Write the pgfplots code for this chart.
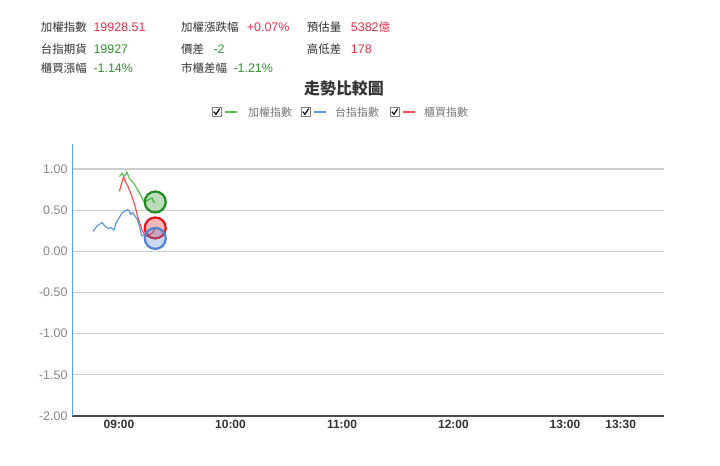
\documentclass[border=0pt]{standalone}
\usepackage{fontspec}
\setmainfont{Liberation Sans}
\newfontfamily\cjk{Noto Sans CJK TC}
\usepackage{pgfplots}
\pgfplotsset{compat=1.18}

\definecolor{txtred}{RGB}{232,48,72}
\definecolor{txtgreen}{RGB}{50,150,50}
\definecolor{txtdark}{RGB}{51,51,51}
\definecolor{lgndgray}{RGB}{120,120,120}
\definecolor{lgreen}{RGB}{90,190,90}
\definecolor{lblue}{RGB}{90,155,225}
\definecolor{lred}{RGB}{240,80,80}
\definecolor{cgreen}{RGB}{30,140,30}
\definecolor{cred}{RGB}{230,20,30}
\definecolor{cblue}{RGB}{80,130,210}
\definecolor{gridgray}{RGB}{205,205,205}
\definecolor{axisblue}{RGB}{90,160,230}

\newcommand{\fs}[1]{\fontsize{#1}{#1}\selectfont}
\newcommand{\cbox}[1]{%
  \draw[gray, line width=0.6bp, fill=white] (#1,349.5bp) rectangle ++(9bp,9bp);
  \draw[black, line width=1.2bp] ({#1+1.8bp},354.3bp) -- ++(2.2bp,-2.6bp) -- ++(3.6bp,5.6bp);}

\begin{document}
\begin{tikzpicture}
\useasboundingbox (0,0) rectangle (720bp,466bp);
\fill[white] (0,0) rectangle (720bp,466bp);

% info block
\begin{scope}[every node/.style={anchor=west, inner sep=0pt}]
\node[txtdark] at (40.7bp,438.7bp) {\cjk\fs{11.5}加權指數};
\node[txtred] at (93.3bp,438.7bp) {\fs{12.5}19928.51};
\node[txtdark] at (181bp,438.7bp) {\cjk\fs{11.5}加權漲跌幅};
\node[txtred] at (246.7bp,438.7bp) {\fs{12.5}+0.07\%};
\node[txtdark] at (306.7bp,438.7bp) {\cjk\fs{11.5}預估量};
\node[txtred] at (350.7bp,438.7bp) {\fs{12.5}5382{\cjk\fs{11.5}億}};

\node[txtdark] at (40.7bp,417bp) {\cjk\fs{11.5}台指期貨};
\node[txtgreen] at (93.3bp,417bp) {\fs{12.5}19927};
\node[txtdark] at (181bp,417bp) {\cjk\fs{11.5}價差};
\node[txtgreen] at (213.3bp,417bp) {\fs{12.5}-2};
\node[txtdark] at (306.7bp,417bp) {\cjk\fs{11.5}高低差};
\node[txtred] at (350.7bp,417bp) {\fs{12.5}178};

\node[txtdark] at (40.7bp,397.7bp) {\cjk\fs{11.5}櫃買漲幅};
\node[txtgreen] at (93.3bp,397.7bp) {\fs{12.5}-1.14\%};
\node[txtdark] at (181bp,397.7bp) {\cjk\fs{11.5}市櫃差幅};
\node[txtgreen] at (233.3bp,397.7bp) {\fs{12.5}-1.21\%};

% legend
\cbox{212bp}
\draw[lgreen, line width=1.3bp] (225bp,354bp) -- (237bp,354bp);
\node[lgndgray] at (248bp,354bp) {\cjk\fs{11}加權指數};
\cbox{301bp}
\draw[lblue, line width=1.3bp] (314bp,354bp) -- (326bp,354bp);
\node[lgndgray] at (335bp,354bp) {\cjk\fs{11}台指指數};
\cbox{390bp}
\draw[lred, line width=1.3bp] (403bp,354bp) -- (415bp,354bp);
\node[lgndgray] at (424bp,354bp) {\cjk\fs{11}櫃買指數};
\end{scope}

\node[txtdark, inner sep=0pt] at (344bp,378bp) {\cjk\bfseries\fs{16}走勢比較圖};

\begin{axis}[
    at={(72bp,50bp)}, anchor=south west,
    scale only axis, width=592bp, height=272bp,
    xmin=-25.3, xmax=293.3,
    ymin=-2, ymax=1.305,
    axis x line*=bottom, axis y line*=left,
    x axis line style={draw={rgb,255:red,75;green,75;blue,75}, line width=2bp},
    y axis line style={draw=axisblue, line width=1bp},
    major tick length=0pt,
    xtick={0,60,120,180,240,270},
    xticklabels={09:00,10:00,11:00,12:00,13:00,13:30},
    xticklabel style={font=\bfseries\fs{12}, text=txtdark, yshift=-1bp},
    ytick={-2,-1.5,-1,-0.5,0,0.5,1},
    yticklabel style={font=\fs{12.5}, text={rgb,255:red,136;green,136;blue,136}, xshift=-1bp,
      /pgf/number format/fixed, /pgf/number format/fixed zerofill,
      /pgf/number format/precision=2, /pgf/number format/assume math mode=true},
    ymajorgrids=true,
    grid style={draw=gridgray, line width=1.2bp},
  ]
  \addplot[lblue, line width=1.2bp] coordinates {
    (-14,0.24)(-12.8,0.28)(-11.7,0.31)(-10.5,0.33)(-9.1,0.35)(-7.7,0.31)(-5.9,0.28)
    (-4.3,0.29)(-2.7,0.26)(-1.5,0.35)(0.4,0.42)(1.6,0.47)(3.1,0.49)(4.5,0.51)(5.2,0.50)
    (6.3,0.45)(7.5,0.47)(8.8,0.42)(9.8,0.39)(11.1,0.30)(12.2,0.19)(13,0.19)(14,0.20)
    (15.6,0.18)(17.8,0.16)(19.5,0.16)
  };
  \addplot[lgreen, line width=1.2bp] coordinates {
    (0.2,0.91)(1.0,0.93)(1.6,0.95)(2.4,0.92)(3.1,0.92)(4.3,0.96)(5.5,0.89)(7.0,0.85)
    (8.4,0.81)(9.7,0.76)(11.5,0.69)(13.3,0.61)(14.2,0.60)(16.0,0.63)(17.8,0.65)
    (18.6,0.60)(19.5,0.60)
  };
  \addplot[lred, line width=1.2bp] coordinates {
    (0.2,0.73)(1.2,0.81)(2.5,0.91)(3.4,0.85)(4.8,0.79)(6.6,0.69)(8.4,0.57)(10.2,0.41)
    (12.4,0.26)(14.2,0.18)(16.0,0.20)(17.8,0.22)(19.5,0.28)
  };
  \addplot[only marks, mark=*, mark size=10.5bp,
    mark options={draw=cgreen, line width=2.2bp, fill=cgreen, fill opacity=0.3}]
    coordinates {(19.5,0.60)};
  \addplot[only marks, mark=*, mark size=10.5bp,
    mark options={draw=cred, line width=2.2bp, fill=cred, fill opacity=0.3}]
    coordinates {(19.5,0.285)};
  \addplot[only marks, mark=*, mark size=10.5bp,
    mark options={draw=cblue, line width=2.2bp, fill=cblue, fill opacity=0.3}]
    coordinates {(19.5,0.158)};
\end{axis}
\end{tikzpicture}
\end{document}
